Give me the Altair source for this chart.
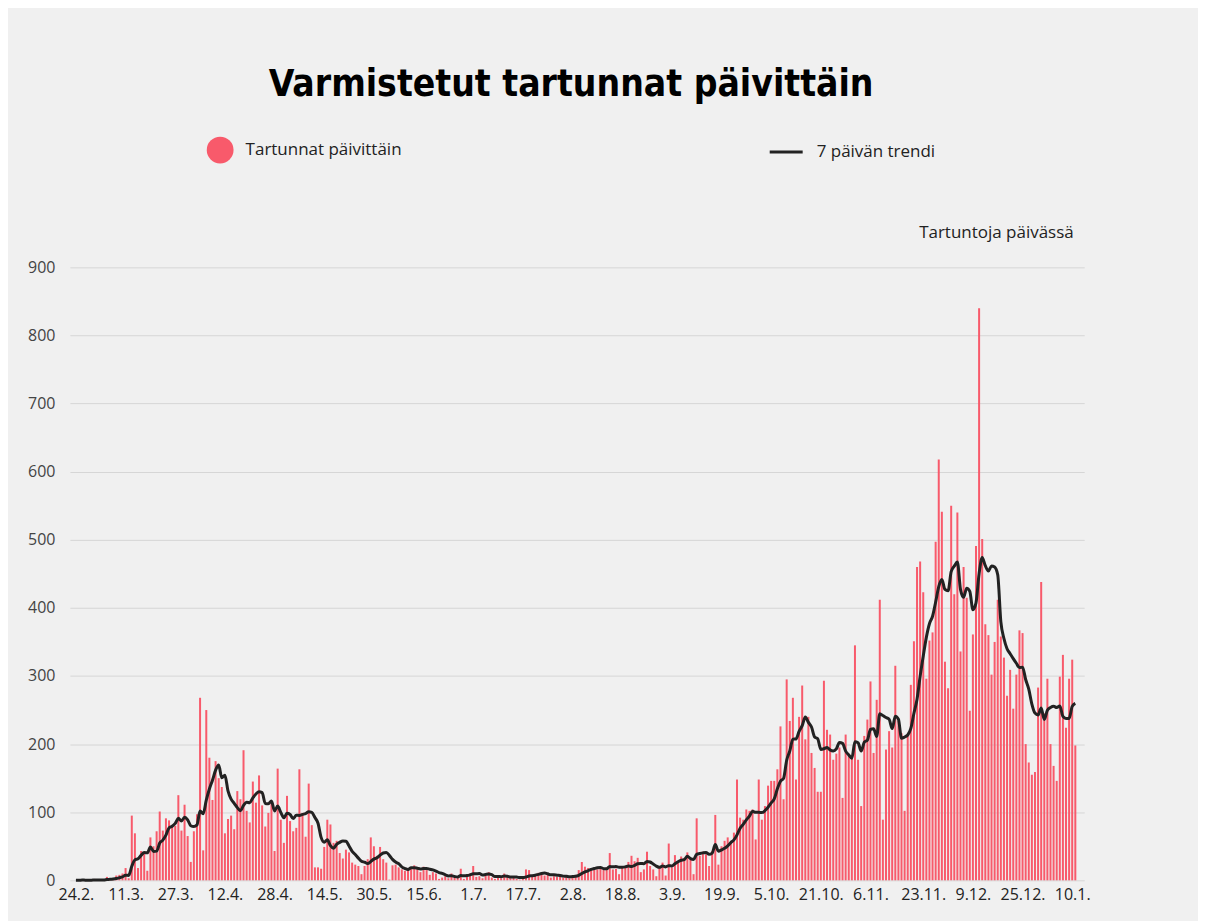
import altair as alt
import pandas as pd

# Daily confirmed infections, 24.2.2020 - 11.1.2021
feb = [0, 0, 1, 0, 0, 0]
mar = [2, 0, 1, 1, 5, 1, 3, 7, 8, 10, 18, 3, 95, 69, 18, 43, 40, 14, 63, 50,
       72, 101, 73, 91, 88, 80, 80, 125, 73, 111, 65]
apr = [27, 72, 97, 268, 44, 250, 180, 118, 175, 150, 137, 69, 90, 95, 75, 131,
       119, 191, 102, 85, 145, 114, 154, 110, 79, 99, 114, 43, 164, 89]
may = [55, 124, 87, 72, 77, 163, 99, 64, 142, 81, 19, 19, 17, 49, 89, 82, 55,
       58, 40, 32, 45, 41, 26, 23, 21, 9, 21, 31, 63, 50, 36]
jun = [49, 31, 26, 1, 22, 23, 19, 16, 14, 16, 19, 22, 18, 12, 20, 15, 8, 12,
       10, 2, 4, 6, 3, 10, 4, 5, 17, 2, 8, 10]
jul = [21, 5, 6, 3, 7, 12, 4, 2, 6, 3, 10, 5, 3, 4, 2, 1, 3, 16, 15, 6, 9, 11,
       10, 7, 9, 4, 6, 5, 8, 4, 6]
aug = [3, 7, 8, 15, 27, 20, 18, 17, 16, 16, 18, 15, 19, 40, 16, 17, 9, 18, 19,
       27, 36, 28, 33, 12, 16, 42, 21, 16, 6, 20, 26]
sep = [7, 54, 19, 37, 28, 35, 33, 41, 30, 9, 91, 36, 42, 38, 21, 43, 96, 23,
       50, 58, 63, 55, 70, 148, 92, 89, 104, 102, 104, 60]
oct_ = [148, 89, 109, 139, 146, 146, 163, 226, 119, 295, 234, 268, 148, 240,
        286, 207, 240, 187, 165, 130, 130, 293, 221, 214, 177, 186, 195, 121,
        214, 182, 180]
nov = [345, 177, 109, 212, 236, 292, 187, 265, 412, 89, 192, 219, 195, 315,
       234, 216, 102, 212, 287, 351, 460, 468, 423, 296, 352, 364, 497, 618,
       541, 321]
dec = [282, 550, 420, 540, 336, 460, 415, 249, 361, 491, 840, 501, 376, 360,
       302, 350, 412, 358, 327, 271, 309, 252, 302, 367, 363, 200, 173, 155,
       159, 283, 438]
jan = [245, 296, 200, 168, 146, 299, 331, 224, 296, 324, 198]

values = feb + mar + apr + may + jun + jul + aug + sep + oct_ + nov + dec + jan
dates = pd.date_range("2020-02-24", periods=len(values), freq="D").strftime("%Y-%m-%d")

# tick labels on the x axis
tick_dates = [(2020, 2, 24), (2020, 3, 11), (2020, 3, 27), (2020, 4, 12),
              (2020, 4, 28), (2020, 5, 14), (2020, 5, 30), (2020, 6, 15),
              (2020, 7, 1), (2020, 7, 17), (2020, 8, 2), (2020, 8, 18),
              (2020, 9, 3), (2020, 9, 19), (2020, 10, 5), (2020, 10, 21),
              (2020, 11, 6), (2020, 11, 23), (2020, 12, 9), (2020, 12, 25),
              (2021, 1, 10)]
y_ticks = [0, 100, 200, 300, 400, 500, 600, 700, 800, 900]

bar_name = "Tartunnat päivittäin"
line_name = "7 päivän trendi"

df = pd.DataFrame({"date": list(dates), "value": values})
df["series"] = bar_name
df["trendname"] = line_name

FONT = "Open Sans"

x_enc = alt.X(
    "date:T",
    scale=alt.Scale(
        type="utc",
        domain=[alt.DateTime(year=2020, month=2, date=23, hours=16, utc=True),
                alt.DateTime(year=2021, month=1, date=12, hours=6, utc=True)],
    ),
    axis=alt.Axis(
        values=[alt.DateTime(year=y, month=m, date=d, utc=True) for (y, m, d) in tick_dates],
        labelExpr="utcFormat(datum.value, '%-d.%-m.')",
        title=None, grid=False,
        domain=False, ticks=False, labelPadding=6, labelFontSize=16,
        labelColor="#222", labelFont=FONT, labelOverlap=False,
    ),
)

y_scale = alt.Scale(domain=[0, 900], nice=False)

bars = alt.Chart(df).mark_bar(width=2).encode(
    x=x_enc,
    y=alt.Y(
        "value:Q", scale=y_scale,
        axis=alt.Axis(
            values=y_ticks, title="Tartuntoja päivässä", titleAngle=0,
            titleX=1005, titleY=-35, titleAlign="right", titleBaseline="middle",
            titleFont=FONT, titleFontSize=17, titleFontWeight="normal",
            titleColor="#222", domain=False, ticks=False, labelPadding=15,
            labelFontSize=16, labelColor="#444", labelFont=FONT,
            gridColor="#d6d6d6", gridWidth=1,
        ),
    ),
    color=alt.Color(
        "series:N",
        scale=alt.Scale(domain=[bar_name], range=["#f85a6b"]),
        legend=alt.Legend(
            title=None, orient="none", legendX=136, legendY=-132,
            symbolType="circle", symbolSize=720, labelFontSize=17,
            labelFont=FONT, labelColor="#222", labelOffset=11,
        ),
    ),
)

line = alt.Chart(df).transform_window(
    trend="mean(value)", frame=[-6, 0], sort=[alt.SortField("date")]
).mark_line(strokeWidth=3, interpolate="monotone").encode(
    x="date:T",
    y=alt.Y("trend:Q", scale=y_scale),
    stroke=alt.Stroke(
        "trendname:N",
        scale=alt.Scale(domain=[line_name], range=["#222222"]),
        legend=alt.Legend(
            title=None, orient="none", legendX=699, legendY=-134,
            symbolType="stroke", symbolSize=1090, symbolStrokeWidth=3,
            labelFontSize=17, labelFont=FONT, labelColor="#222", labelOffset=12,
        ),
    ),
)

chart = alt.layer(bars, line).properties(
    width=1016,
    height=614,
    padding={"left": 62, "top": 259, "right": 114, "bottom": 50},
    autosize=alt.AutoSizeParams(type="none"),
    title=alt.Title(
        "Varmistetut tartunnat päivittäin",
        font="'DejaVu Sans Condensed', 'Open Sans'", fontSize=37, fontWeight="bold",
        color="#000000", anchor="middle", offset=30, dx=-6,
    ),
).configure(background="#f0f0f0").configure_view(stroke=None)

chart.save("out.html", embed_options={"renderer": "svg", "actions": False})
